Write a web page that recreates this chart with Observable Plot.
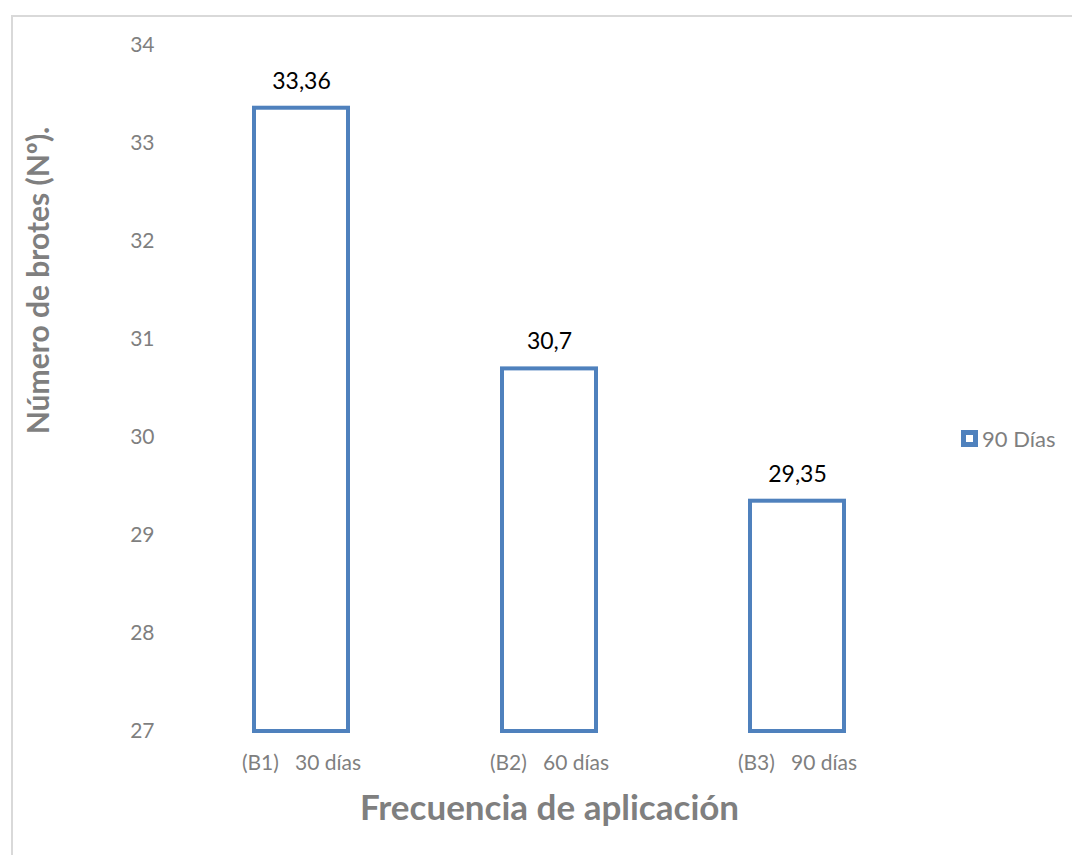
<!DOCTYPE html>
<html>
<head>
<meta charset="utf-8">
<script src="https://cdn.jsdelivr.net/npm/d3@7"></script>
<script src="https://cdn.jsdelivr.net/npm/@observablehq/plot@0.6"></script>
<style>
  body { margin: 0; background: #fff; font-family: Lato, "Open Sans", sans-serif; }
  #wrap { position: relative; width: 1072px; height: 855px; overflow: hidden; }
  #border { position: absolute; left: 11px; top: 15px; width: 1200px; height: 1000px; border: 2px solid #d9d9d9; box-sizing: border-box; }
  #chart { position: absolute; left: 0; top: 0; }
  #chart svg text { white-space: pre; }
  #legend { position: absolute; left: 961px; top: 425px; display: flex; align-items: center; font-size: 22px; color: #7f7f7f; }
  #legend .sw { width: 7px; height: 7px; border: 5px solid #4f81bd; background: #fff; margin-right: 4px; }
</style>
</head>
<body>
<div id="wrap">
  <div id="border"></div>
  <div id="chart"></div>
  <div id="legend"><span class="sw"></span><span id="legtxt"></span></div>
</div>
<script>
const categories = ["(B1)   30 días", "(B2)   60 días", "(B3)   90 días"];
const values = [33.36, 30.7, 29.35];
const valueLabels = ["33,36", "30,7", "29,35"];
const yTicks = [27, 28, 29, 30, 31, 32, 33, 34];
const seriesName = "90 Días";
const xTitle = "Frecuencia de aplicación";
const yTitle = "Número de brotes (Nº).";

const data = categories.map((c, i) => ({cat: c, value: values[i], label: valueLabels[i]}));
const gray = "#7f7f7f";

const chart = Plot.plot({
  width: 1072,
  height: 855,
  marginLeft: 177,
  marginRight: 151,
  marginTop: 45,
  marginBottom: 124,
  style: {fontFamily: "Lato, 'Open Sans', sans-serif", background: "transparent"},
  x: {domain: categories, paddingInner: 0.62, paddingOuter: 0.31, label: null},
  y: {domain: [27, 34], label: null},
  marks: [
    Plot.axisY({ticks: yTicks, tickFormat: d => String(d), tickSize: 0, tickPadding: 23, fontSize: 21, fill: gray, label: null}),
    Plot.axisX({tickSize: 0, tickPadding: 24, fontSize: 21, fill: gray, label: null}),
    Plot.barY(data, {x: "cat", y1: 27, y2: "value", fill: "white", stroke: "#4f81bd", strokeWidth: 4}),
    Plot.text(data, {x: "cat", y: "value", text: "label", dy: -27, fontSize: 23, fill: "black"}),
    Plot.text([xTitle], {text: d => d, frameAnchor: "bottom", dy: 88, fontSize: 35, fontWeight: "bold", fill: gray}),
    Plot.text([yTitle], {text: d => d, frameAnchor: "left", textAnchor: "middle", dx: -138, dy: -108, rotate: -90, fontSize: 30, fontWeight: "bold", fill: gray})
  ]
});
document.getElementById("chart").appendChild(chart);
document.getElementById("legtxt").textContent = seriesName;
</script>
</body>
</html>
